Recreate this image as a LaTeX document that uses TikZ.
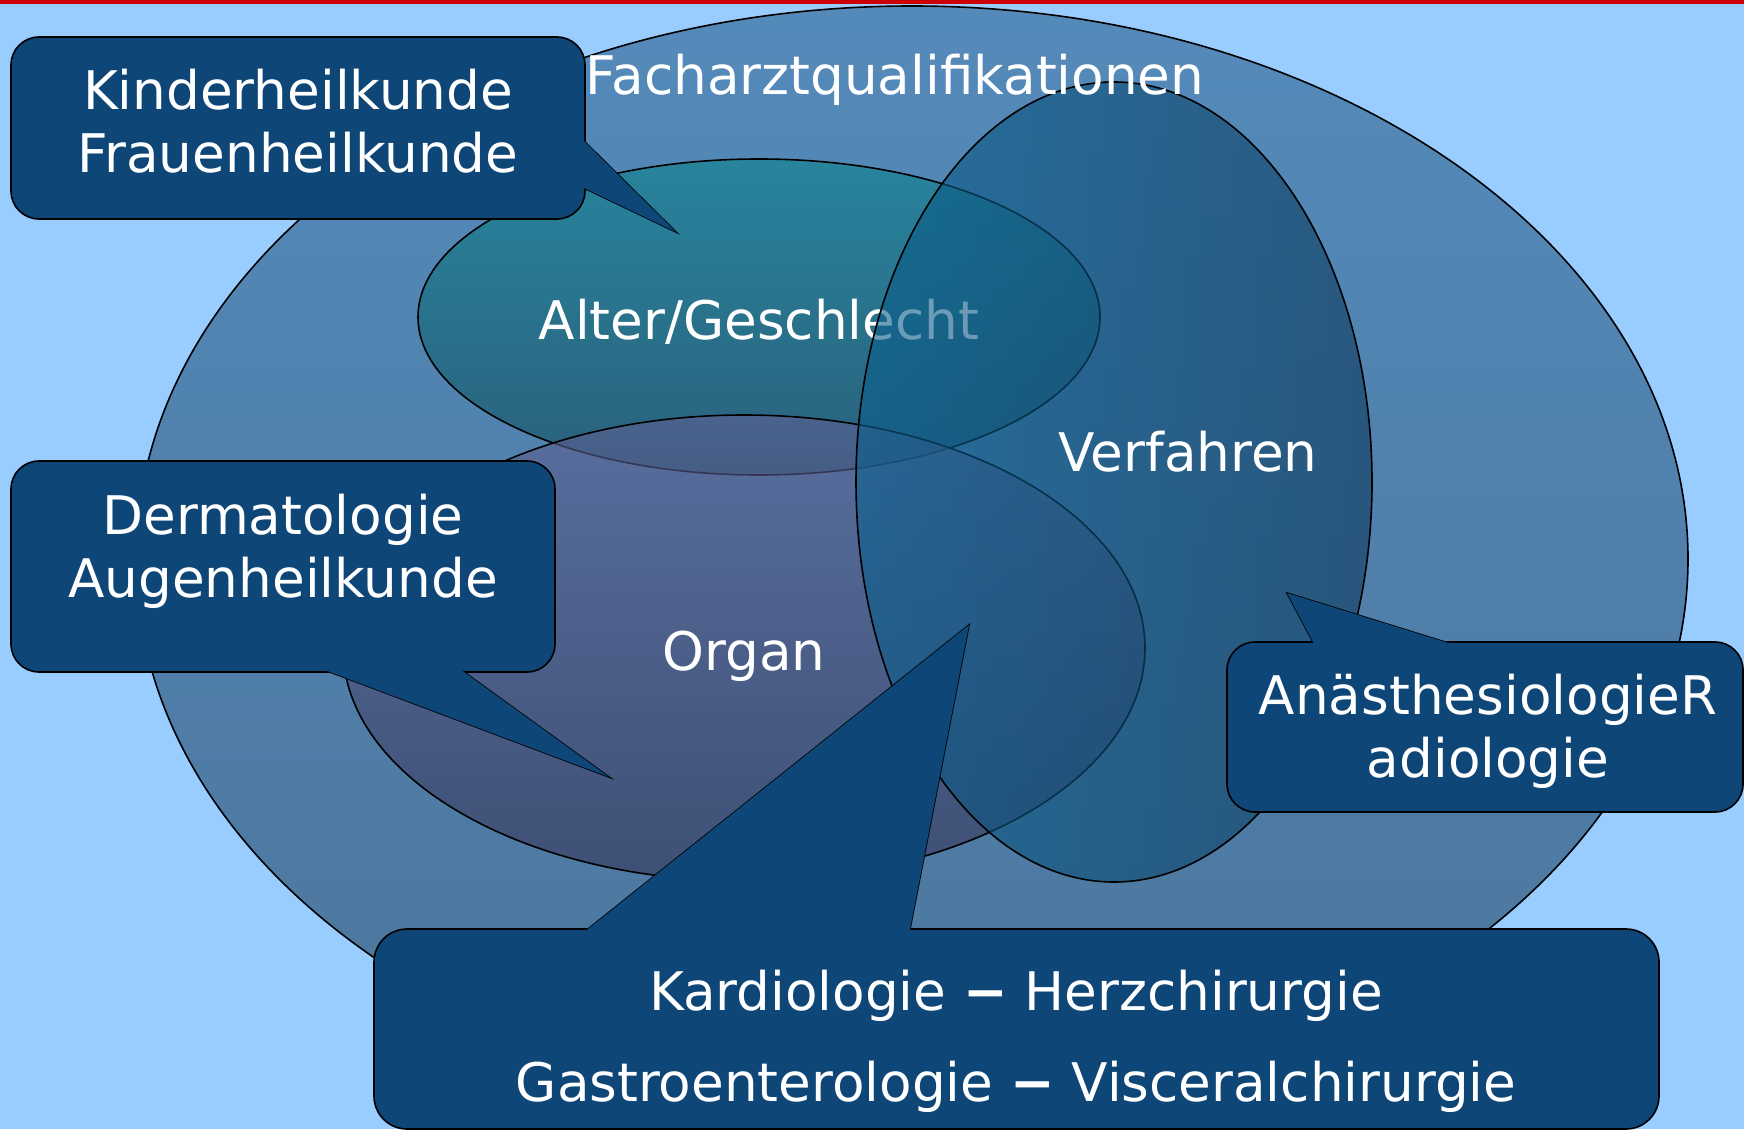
\documentclass[tikz,border=0pt]{standalone}
\usepackage{fontspec}
\setmainfont{DejaVu Sans}
\usetikzlibrary{calc}

\definecolor{skyback}{RGB}{153,204,255}
\definecolor{topred}{RGB}{204,0,0}
\definecolor{callblue}{RGB}{14,70,119}
\definecolor{fachtop}{RGB}{84,138,186}
\definecolor{fachbot}{RGB}{76,118,156}
\definecolor{altertop}{RGB}{40,132,156}
\definecolor{alterbot}{RGB}{42,96,124}
\definecolor{organtop}{RGB}{95,97,148}
\definecolor{organbot}{RGB}{52,52,86}
\definecolor{verfleft}{RGB}{10,95,142}
\definecolor{verfright}{RGB}{14,58,92}

\begin{document}
\begin{tikzpicture}[x=1pt, y=-1pt,
    lbl/.style={text=white, font=\fontsize{53.2}{63}\selectfont, align=center, inner sep=0pt},
    ring/.style={draw=black, line width=1.6pt},
    callout/.style={fill=callblue, draw=black, line width=1.6pt},
    calloutfill/.style={fill=callblue}]

    \useasboundingbox (0,0) rectangle (1744,1129);
    \clip (0,0) rectangle (1744,1129);

    % Background & red bar
    \fill[skyback] (0,0) rectangle (1744,1129);
    \fill[topred] (0,0) rectangle (1744,4);

    % Big ellipse
    \shadedraw[ring, top color=fachtop, bottom color=fachbot]
        (912,559) ellipse [x radius=776, y radius=553];

    % Alter/Geschlecht
    \shadedraw[ring, top color=altertop, bottom color=alterbot]
        (759,317) ellipse [x radius=341, y radius=158];
    \node[lbl] (alter) at (759,322) {Alter/Geschlecht};

    % Organ
    \shadedraw[ring, top color=organtop, bottom color=organbot, fill opacity=0.6]
        (744,648) ellipse [x radius=401, y radius=233];
    \node[lbl] (organ) at (744,656) {Organ};

    % Verfahren
    \shadedraw[ring, left color=verfleft, right color=verfright, fill opacity=0.6]
        (1114,482) ellipse [x radius=258, y radius=400];
    \node[lbl] (verfahren) at (1188,452) {Verfahren};

    \node[lbl] (fach) at (895,80) {Facharztqualifikationen};

    % Callout: Kinderheilkunde
    \coordinate (ktip) at (676,232);
    \coordinate (ka) at (586,143);
    \coordinate (kb) at (586,189);
    \filldraw[callout] ($(ktip)!1.12!(ka)$) -- (ktip) -- ($(ktip)!1.12!(kb)$) -- cycle;
    \filldraw[callout, rounded corners=28pt] (11,37) rectangle (585,219);
    \fill[calloutfill] ($(ktip)!1.12!(ka)$) -- (ktip) -- ($(ktip)!1.12!(kb)$) -- cycle;
    \node[lbl] (kinder) at (298,121) {Kinderheilkunde\\Frauenheilkunde};

    % Callout: Dermatologie
    \coordinate (dtip) at (609,777);
    \coordinate (da) at (330,672);
    \coordinate (db) at (464,672);
    \filldraw[callout] ($(dtip)!1.1!(da)$) -- (dtip) -- ($(dtip)!1.1!(db)$) -- cycle;
    \filldraw[callout, rounded corners=28pt] (11,461) rectangle (555,672);
    \fill[calloutfill] ($(dtip)!1.1!(da)$) -- (dtip) -- ($(dtip)!1.1!(db)$) -- cycle;
    \node[lbl] (derma) at (283,551) {Dermatologie\\Augenheilkunde};

    % Callout: Anaesthesiologie
    \coordinate (atip) at (1287,593);
    \coordinate (aa) at (1313,642);
    \coordinate (ab) at (1445,642);
    \filldraw[callout] ($(atip)!1.15!(aa)$) -- (atip) -- ($(atip)!1.15!(ab)$) -- cycle;
    \filldraw[callout, rounded corners=28pt] (1227,642) rectangle (1743,812);
    \fill[calloutfill] ($(atip)!1.15!(aa)$) -- (atip) -- ($(atip)!1.15!(ab)$) -- cycle;
    \node[lbl] (anaest) at (1488,731) {AnästhesiologieR\\adiologie};

    % Callout: Kardiologie
    \coordinate (ctip) at (969,625);
    \coordinate (ca) at (588,929);
    \coordinate (cb) at (910,929);
    \filldraw[callout] ($(ctip)!1.05!(ca)$) -- (ctip) -- ($(ctip)!1.05!(cb)$) -- cycle;
    \filldraw[callout, rounded corners=33pt] (374,929) rectangle (1659,1129);
    \fill[calloutfill] ($(ctip)!1.05!(ca)$) -- (ctip) -- ($(ctip)!1.05!(cb)$) -- cycle;
    \node[lbl] (kardio) at (1016,1041)
        {Kardiologie \textbf{−} Herzchirurgie\\[28pt]Gastroenterologie \textbf{−} Visceralchirurgie};

\end{tikzpicture}
\end{document}
